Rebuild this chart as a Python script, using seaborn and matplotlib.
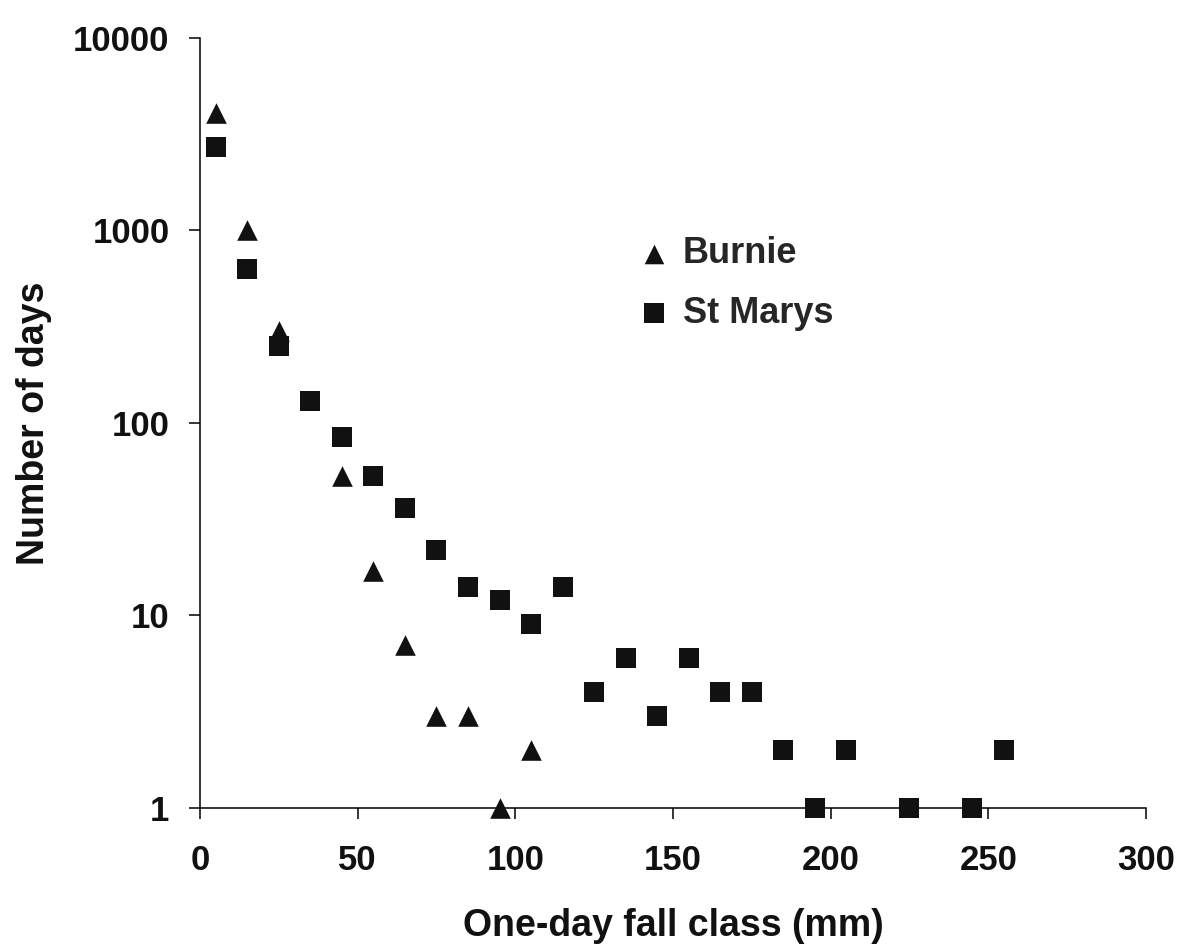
import pandas as pd
import seaborn as sns
import matplotlib.pyplot as plt
from matplotlib.ticker import NullLocator

# 一日降雨量分级 (mm, 组中值) 与天数, 读自原图
burnie_class = [5, 15, 25, 45, 55, 65, 75, 85, 95, 105]
burnie_days = [4100, 1000, 300, 53, 17, 7, 3, 3, 1, 2]
stmarys_class = [5, 15, 25, 35, 45, 55, 65, 75, 85, 95, 105, 115,
                 125, 135, 145, 155, 165, 175, 185, 195, 205, 225, 245, 255]
stmarys_days = [2700, 630, 250, 130, 85, 53, 36, 22, 14, 12, 9, 14,
                4, 6, 3, 6, 4, 4, 2, 1, 2, 1, 1, 2]
x_ticks = [0, 50, 100, 150, 200, 250, 300]
y_ticks = [1, 10, 100, 1000, 10000]

burnie = pd.DataFrame({'cls': burnie_class, 'days': burnie_days})
stmarys = pd.DataFrame({'cls': stmarys_class, 'days': stmarys_days})

font_size = 25
label_size = 27
ink = '#111111'

sns.set_theme(style='ticks')
plt.rcParams['font.family'] = ['Liberation Sans', 'DejaVu Sans']
plt.rcParams['font.weight'] = 'bold'
plt.rcParams['axes.labelweight'] = 'bold'

fig = plt.figure(figsize=(11.81, 9.5), dpi=100)
ax = fig.add_axes([0.1693, 0.1495, 0.801, 0.8105])

# 两个站点分别画散点
sns.scatterplot(data=burnie, x='cls', y='days', marker='^', color=ink, s=220,
                linewidth=0, clip_on=False, label='Burnie', ax=ax, zorder=3)
sns.scatterplot(data=stmarys, x='cls', y='days', marker='s', color=ink, s=220,
                linewidth=0, clip_on=False, label='St Marys', ax=ax, zorder=3)

ax.set_yscale('log')
ax.set_xlim(0, 300)
ax.set_ylim(1, 10000)
ax.set_xticks(x_ticks)
ax.set_xticklabels([str(v) for v in x_ticks])
ax.set_yticks(y_ticks)
ax.set_yticklabels([str(v) for v in y_ticks])
ax.yaxis.set_minor_locator(NullLocator())
ax.xaxis.set_minor_locator(NullLocator())

ax.tick_params(axis='both', direction='out', length=8, width=1.1, color='black',
               labelsize=font_size, labelcolor=ink)
ax.tick_params(axis='x', pad=18)
ax.tick_params(axis='y', pad=14)

sns.despine(ax=ax)
for side in ['left', 'bottom']:
    ax.spines[side].set_color('black')
    ax.spines[side].set_linewidth(1.1)

ax.set_xlabel('One-day fall class (mm)', fontsize=label_size, color=ink, labelpad=22)
ax.set_ylabel('Number of days', fontsize=label_size, color=ink, labelpad=15)

ax.legend(loc='upper left', bbox_to_anchor=(636 / 1181, 1 - 236 / 950),
          bbox_transform=fig.transFigure, frameon=False, fontsize=26,
          borderpad=0, borderaxespad=0, handlelength=1.0, handletextpad=0.3,
          labelspacing=0.68, markerscale=0.95)

plt.savefig('out.png', dpi=100)
